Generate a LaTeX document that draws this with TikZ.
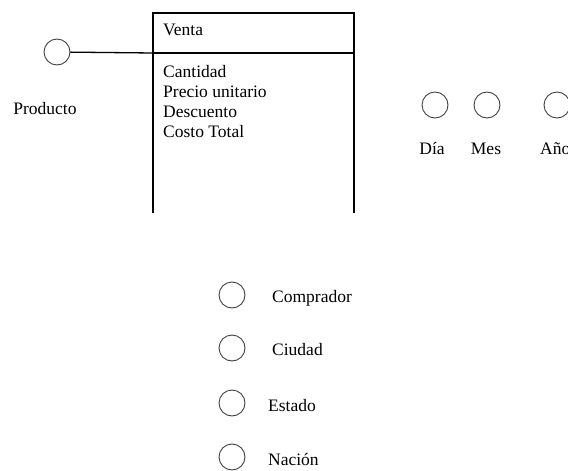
\documentclass[tikz,border=0pt]{standalone}
\usepackage{fontspec}
\setmainfont{Liberation Serif}
\begin{document}
\begin{tikzpicture}[x=1pt,y=-1pt,
  attr/.style={circle,draw=black!75,line width=0.9pt,minimum size=26pt,inner sep=0pt},
  lbl/.style={font=\fontsize{17.5}{20}\selectfont,inner sep=0pt},
  boxline/.style={line width=1.3pt}]
\useasboundingbox (0,0) rectangle (568,471);
% Venta box (open at bottom)
\coordinate (bl) at (153,213);
\coordinate (tl) at (153,13);
\coordinate (tr) at (354,13);
\coordinate (br) at (354,213);
\draw[boxline] (bl) -- (tl) -- (tr) -- (br);
\coordinate (hl) at (153,53);
\coordinate (hr) at (354,53);
\draw[boxline] (hl) -- (hr);
\node[lbl,anchor=west] (venta) at (163,30) {Venta};
\node[lbl,anchor=west] (cant) at (163,72) {Cantidad};
\node[lbl,anchor=west] (prec) at (163,92) {Precio unitario};
\node[lbl,anchor=west] (desc) at (163,112) {Descuento};
\node[lbl,anchor=west] (cost) at (163,132) {Costo Total};
% Producto
\node[attr] (prod) at (57,52) {};
\node[lbl] (prodl) at (45,109) {Producto};
\draw[boxline] (prod) -- (hl);
% time
\node[attr] (dia) at (435,105) {};
\node[attr] (mes) at (487,105) {};
\node[attr] (anio) at (557,105) {};
\node[lbl] (dial) at (432,149) {Día};
\node[lbl] (mesl) at (486,149) {Mes};
\node[lbl,anchor=west] (aniol) at (540,149) {Año};
% location
\node[attr] (comp) at (232,295) {};
\node[attr] (ciud) at (232,348) {};
\node[attr] (esta) at (232,403) {};
\node[attr] (naci) at (232,457) {};
\node[lbl,anchor=west] (compl) at (272,298) {Comprador};
\node[lbl,anchor=west] (ciudl) at (272,350) {Ciudad};
\node[lbl,anchor=west] (estal) at (268,406) {Estado};
\node[lbl,anchor=west] (nacil) at (268,459) {Nación};
\end{tikzpicture}
\end{document}
